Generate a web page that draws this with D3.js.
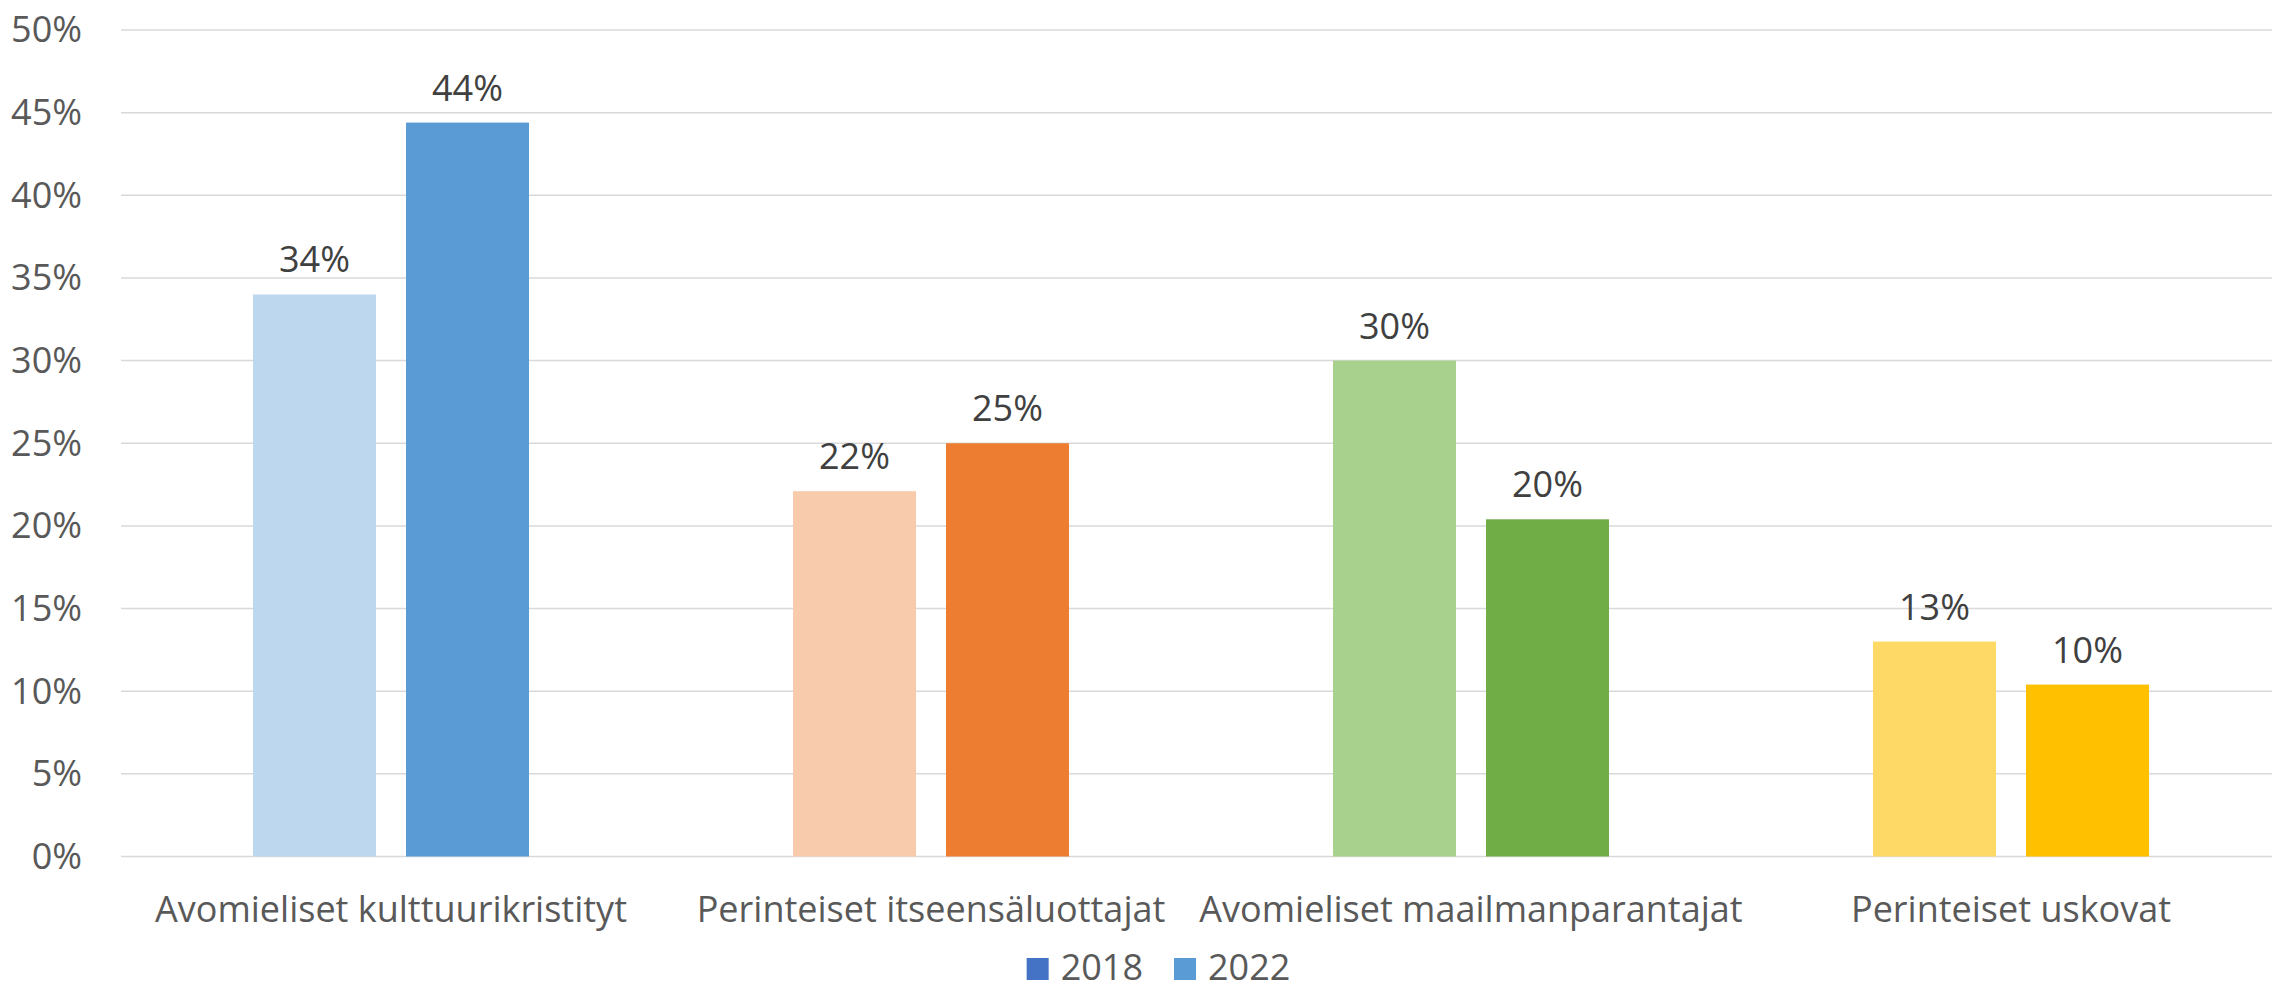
<!DOCTYPE html>
<html>
<head>
<meta charset="utf-8">
<script src="https://cdn.jsdelivr.net/npm/d3@7"></script>
<style>
  html, body { margin: 0; padding: 0; background: #ffffff; }
  svg { display: block; }
  text { font-family: "Open Sans", "Liberation Sans", sans-serif; }
</style>
</head>
<body>
<svg id="chart" width="2272" height="993"></svg>
<script>
const categories = [
  "Avomieliset kulttuurikristityt",
  "Perinteiset itseensäluottajat",
  "Avomieliset maailmanparantajat",
  "Perinteiset uskovat"
];
const years = ["2018", "2022"];
const values2018 = [34.0, 22.1, 30.0, 13.0];
const values2022 = [44.4, 25.0, 20.4, 10.4];
const valueLabels2018 = ["34%", "22%", "30%", "13%"];
const valueLabels2022 = ["44%", "25%", "20%", "10%"];
const colors2018 = ["#BDD7EE", "#F8CBAD", "#A9D18E", "#FFD966"];
const colors2022 = ["#5B9BD5", "#ED7D31", "#70AD47", "#FFC000"];
const legendColors = ["#4472C4", "#5B9BD5"];
const yTicks = [0, 5, 10, 15, 20, 25, 30, 35, 40, 45, 50];

const svg = d3.select("#chart");
const fontSize = 36;

const x0 = d3.scaleBand().domain(categories).range([121, 2281]).padding(0);
const x1 = d3.scaleBand().domain(years).range([132, 408]).paddingInner(30 / 153).paddingOuter(0);
const y = d3.scaleLinear().domain([0, 50]).range([856.5, 30]);

// gridlines
svg.append("g").selectAll("line").data(yTicks).join("line")
  .attr("x1", 121).attr("x2", 2272)
  .attr("y1", d => y(d)).attr("y2", d => y(d))
  .attr("stroke", "#d9d9d9").attr("stroke-width", 1.5);

// y axis labels
const yAxis = d3.axisLeft(y).tickValues(yTicks).tickSize(0).tickPadding(0).tickFormat(d => d + "%");
const gy = svg.append("g").attr("transform", "translate(82,0)").call(yAxis);
gy.select(".domain").remove();
gy.selectAll("text")
  .attr("font-family", "Open Sans, Liberation Sans, sans-serif")
  .attr("font-size", fontSize).attr("fill", "#595959")
  .attr("dy", "0.33em");

// bars
const rows = categories.map((c, i) => ({
  cat: c,
  items: [
    { year: years[0], v: values2018[i], label: valueLabels2018[i], color: colors2018[i] },
    { year: years[1], v: values2022[i], label: valueLabels2022[i], color: colors2022[i] }
  ]
}));

const groups = svg.append("g").selectAll("g").data(rows).join("g")
  .attr("transform", d => `translate(${x0(d.cat)},0)`);

groups.selectAll("rect").data(d => d.items).join("rect")
  .attr("x", d => x1(d.year))
  .attr("width", x1.bandwidth())
  .attr("y", d => y(d.v))
  .attr("height", d => y(0) - y(d.v))
  .attr("fill", d => d.color);

groups.selectAll("text").data(d => d.items).join("text")
  .attr("x", d => x1(d.year) + x1.bandwidth() / 2)
  .attr("y", d => y(d.v) - 22)
  .attr("text-anchor", "middle")
  .attr("font-size", fontSize)
  .attr("fill", "#404040")
  .text(d => d.label);

// category labels
const xAxis = d3.axisBottom(x0).tickSize(0).tickPadding(0);
const gx = svg.append("g").attr("transform", "translate(0,922)").call(xAxis);
gx.select(".domain").remove();
gx.selectAll("text")
  .attr("font-family", "Open Sans, Liberation Sans, sans-serif")
  .attr("font-size", fontSize).attr("fill", "#595959")
  .attr("y", 0).attr("dy", 0);

// legend
const legend = svg.append("g");
const items = legend.selectAll("g").data(years).join("g");
items.append("rect")
  .attr("width", 22).attr("height", 22).attr("y", 958)
  .attr("fill", (d, i) => legendColors[i]);
items.append("text")
  .attr("x", 34).attr("y", 980)
  .attr("font-size", fontSize).attr("fill", "#595959")
  .text(d => d);
let widths = [];
items.each(function() { widths.push(34 + d3.select(this).select("text").node().getComputedTextLength()); });
const gap = 31;
const total = d3.sum(widths) + gap * (widths.length - 1);
let cx = 1158.5 - total / 2;
items.attr("transform", (d, i) => {
  const t = `translate(${cx},0)`;
  cx += widths[i] + gap;
  return t;
});
</script>
</body>
</html>
